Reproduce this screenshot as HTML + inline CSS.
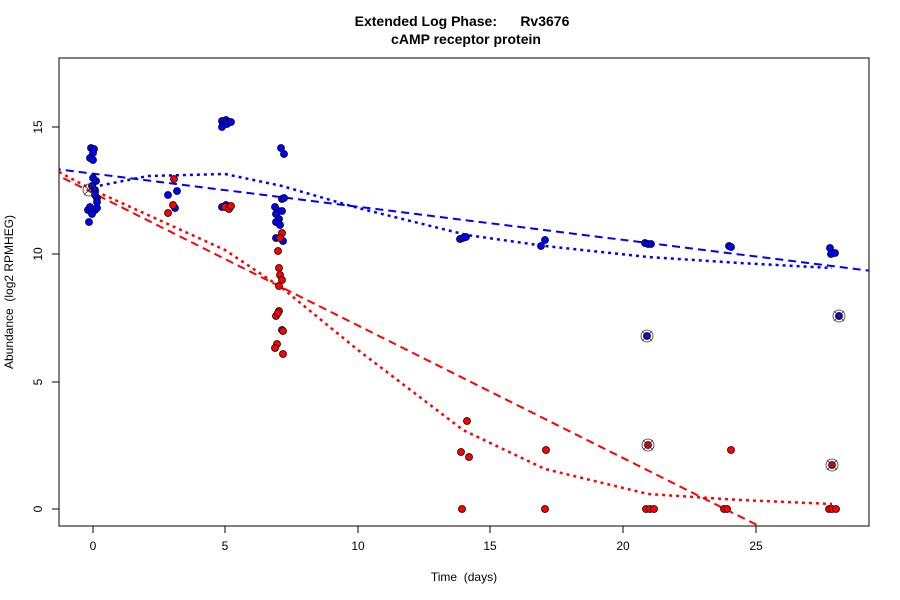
<!DOCTYPE html><html><head><style>body{margin:0;background:#fff}svg{display:block}text{font-family:"Liberation Sans",sans-serif}</style></head><body>
<svg width="900" height="600" xmlns="http://www.w3.org/2000/svg">
<rect width="900" height="600" fill="#fff"/>
<text x="462" y="26" font-size="14" font-weight="bold" text-anchor="middle">Extended Log Phase:&#160;&#160;&#160;&#160;&#160;&#160;Rv3676</text>
<text x="466" y="44" font-size="14" font-weight="bold" text-anchor="middle">cAMP receptor protein</text>
<rect x="59" y="58" width="810" height="468" fill="none" stroke="#000"/>
<g stroke="#000">
<line x1="93" y1="526" x2="93" y2="533"/><line x1="225" y1="526" x2="225" y2="533"/><line x1="358" y1="526" x2="358" y2="533"/><line x1="490" y1="526" x2="490" y2="533"/><line x1="623" y1="526" x2="623" y2="533"/><line x1="756" y1="526" x2="756" y2="533"/>
<line x1="52" y1="509" x2="59" y2="509"/><line x1="52" y1="382" x2="59" y2="382"/><line x1="52" y1="254" x2="59" y2="254"/><line x1="52" y1="127" x2="59" y2="127"/>
</g>
<g font-size="12" text-anchor="middle">
<text x="93" y="550">0</text><text x="225" y="550">5</text><text x="358" y="550">10</text><text x="490" y="550">15</text><text x="623" y="550">20</text><text x="756" y="550">25</text>
<text x="464" y="581">Time&#160;&#160;(days)</text>
</g>
<g font-size="12" text-anchor="middle">
<text transform="translate(42,509) rotate(-90)">0</text><text transform="translate(42,382) rotate(-90)">5</text><text transform="translate(42,254) rotate(-90)">10</text><text transform="translate(42,127) rotate(-90)">15</text>
<text transform="translate(13,292) rotate(-90)">Abundance&#160;&#160;(log2 RPMHEG)</text>
</g>
<defs><clipPath id="c"><rect x="59" y="58" width="810" height="468"/></clipPath></defs>
<g clip-path="url(#c)" fill="none" stroke-width="2">
<line x1="40" y1="167" x2="880" y2="272" stroke="#00f" stroke-dasharray="8,5"/>
<polyline stroke="#00f" stroke-dasharray="3,4" stroke-width="2.5" points="93,187 148,176 225,174 282,186 358,208 467,235 545,246 648,257 740,263 832,268"/>
<line x1="40" y1="166.5" x2="780" y2="536.5" stroke="#f00" stroke-dasharray="8,5"/>
<polyline stroke="#f00" stroke-dasharray="3,4" stroke-width="2.5" points="59,172 93,190 148,215 225,250 282,288 358,350 463,430 545,469 648,494 740,500 832,504"/>
</g>
<g stroke="#000" stroke-width="0.8" fill="#00f">
<circle cx="91" cy="148" r="3.5"/><circle cx="94" cy="149" r="3.5"/><circle cx="93" cy="153" r="3.5"/><circle cx="90" cy="158" r="3.5"/><circle cx="93" cy="160" r="3.5"/><circle cx="93" cy="178" r="3.5"/><circle cx="96" cy="181" r="3.5"/><circle cx="92" cy="186" r="3.5"/><circle cx="95" cy="190" r="3.5"/><circle cx="97" cy="198" r="3.5"/><circle cx="95" cy="195" r="3.5"/><circle cx="88" cy="210" r="3.5"/><circle cx="90" cy="207" r="3.5"/><circle cx="95" cy="210" r="3.5"/><circle cx="97" cy="202" r="3.5"/><circle cx="92" cy="214" r="3.5"/><circle cx="97" cy="208" r="3.5"/><circle cx="89" cy="222" r="3.5"/>
<circle cx="168" cy="195" r="3.5"/><circle cx="177" cy="191" r="3.5"/><circle cx="175" cy="208" r="3.5"/>
<circle cx="222" cy="121" r="3.5"/><circle cx="226" cy="120" r="3.5"/><circle cx="229" cy="122" r="3.5"/><circle cx="223" cy="125" r="3.5"/><circle cx="227" cy="124" r="3.5"/><circle cx="231" cy="122" r="3.5"/><circle cx="222" cy="127" r="3.5"/>
<circle cx="222" cy="207" r="3.5"/><circle cx="226" cy="205" r="3.5"/>
<circle cx="281" cy="148" r="3.5"/><circle cx="284" cy="154" r="3.5"/><circle cx="282" cy="199" r="3.5"/><circle cx="284" cy="198" r="3.5"/><circle cx="275" cy="207" r="3.5"/><circle cx="278" cy="211" r="3.5"/><circle cx="276" cy="214" r="3.5"/><circle cx="282" cy="211" r="3.5"/><circle cx="279" cy="219" r="3.5"/><circle cx="276" cy="222" r="3.5"/><circle cx="280" cy="225" r="3.5"/><circle cx="276" cy="238" r="3.5"/><circle cx="283" cy="241" r="3.5"/>
<circle cx="460" cy="239" r="3.5"/><circle cx="463" cy="238" r="3.5"/><circle cx="466" cy="237" r="3.5"/>
<circle cx="541" cy="246" r="3.5"/><circle cx="545" cy="240" r="3.5"/>
<circle cx="645" cy="243" r="3.5"/><circle cx="648" cy="244" r="3.5"/><circle cx="651" cy="244" r="3.5"/>
<circle cx="729" cy="246" r="3.5"/><circle cx="731" cy="247" r="3.5"/>
<circle cx="830" cy="248" r="3.5"/><circle cx="831" cy="254" r="3.5"/><circle cx="835" cy="253" r="3.5"/>
<circle cx="647" cy="336" r="3.5"/><circle cx="839" cy="316" r="3.5"/>
</g>
<g stroke="#000" stroke-width="0.8" fill="#f00">
<circle cx="174" cy="179" r="3.5"/><circle cx="168" cy="213" r="3.5"/><circle cx="173" cy="205" r="3.5"/>
<circle cx="225" cy="207" r="3.5"/><circle cx="229" cy="209" r="3.5"/><circle cx="231" cy="206" r="3.5"/>
<circle cx="282" cy="233" r="3.5"/><circle cx="280" cy="238" r="3.5"/><circle cx="278" cy="251" r="3.5"/><circle cx="279" cy="268" r="3.5"/><circle cx="280" cy="275" r="3.5"/><circle cx="282" cy="280" r="3.5"/><circle cx="279" cy="286" r="3.5"/><circle cx="279" cy="311" r="3.5"/><circle cx="276" cy="316" r="3.5"/><circle cx="278" cy="313" r="3.5"/><circle cx="282" cy="330" r="3.5"/><circle cx="283" cy="331" r="3.5"/><circle cx="277" cy="344" r="3.5"/><circle cx="275" cy="348" r="3.5"/><circle cx="283" cy="354" r="3.5"/>
<circle cx="461" cy="452" r="3.5"/><circle cx="467" cy="421" r="3.5"/><circle cx="469" cy="457" r="3.5"/><circle cx="462" cy="509" r="3.5"/>
<circle cx="546" cy="450" r="3.5"/><circle cx="545" cy="509" r="3.5"/>
<circle cx="646" cy="509" r="3.5"/><circle cx="650" cy="509" r="3.5"/><circle cx="654" cy="509" r="3.5"/>
<circle cx="724" cy="509" r="3.5"/><circle cx="727" cy="509" r="3.5"/><circle cx="731" cy="450" r="3.5"/>
<circle cx="829" cy="509" r="3.5"/><circle cx="832" cy="509" r="3.5"/><circle cx="836" cy="509" r="3.5"/>
<circle cx="648" cy="445" r="3.5"/><circle cx="832" cy="465" r="3.5"/>
</g>
<g stroke="#333" stroke-width="0.8" fill="none">
<circle cx="89" cy="190" r="6"/><path d="M84,185l10,10M84,195l10,-10"/>
<circle cx="647" cy="336" r="6"/><path d="M642,331l10,10M642,341l10,-10"/>
<circle cx="839" cy="316" r="6"/><path d="M834,311l10,10M834,321l10,-10"/>
<circle cx="648" cy="445" r="6"/><path d="M643,440l10,10M643,450l10,-10"/>
<circle cx="832" cy="465" r="6"/><path d="M827,460l10,10M827,470l10,-10"/>
</g>
</svg>
</body></html>
